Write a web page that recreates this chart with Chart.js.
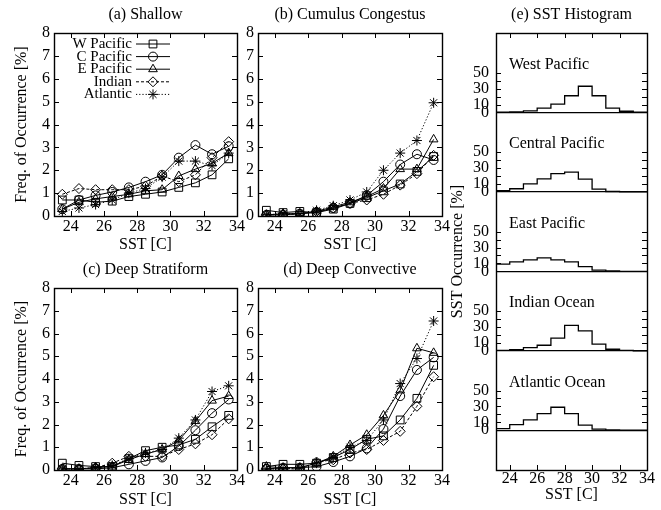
<!DOCTYPE html>
<html>
<head>
<meta charset="utf-8">
<script src="https://cdn.jsdelivr.net/npm/chart.js@4"></script>
<style>
  body { margin: 0; background: #fff; width: 661px; height: 510px; position: relative; overflow: hidden; }
  .panel { position: absolute; }
</style>
</head>
<body>
<div class="panel" style="left:0;top:0;width:254px;height:258px"><canvas id="shallow"></canvas></div>
<div class="panel" style="left:220px;top:0;width:243px;height:258px"><canvas id="congestus"></canvas></div>
<div class="panel" style="left:0;top:240px;width:254px;height:270px"><canvas id="stratiform"></canvas></div>
<div class="panel" style="left:220px;top:240px;width:243px;height:270px"><canvas id="convective"></canvas></div>
<div class="panel" style="left:440px;top:0;width:221px;height:510px"><canvas id="histogram"></canvas></div>
<script>
// bin centres and axis ticks
const sst = [23.5, 24.5, 25.5, 26.5, 27.5, 28.5, 29.5, 30.5, 31.5, 32.5, 33.5];
const sstTicks = [24, 26, 28, 30, 32, 34];
const freqTicks = [0, 1, 2, 3, 4, 5, 6, 7, 8];
const regions = ['W Pacific', 'C Pacific', 'E Pacific', 'Indian', 'Atlantic'];

// (a) Shallow
const shallowW = [0.7, 0.7, 0.6, 0.65, 0.85, 0.95, 1.05, 1.25, 1.45, 1.8, 2.5];
const shallowC = [0.3, 0.7, 0.9, 1.05, 1.25, 1.5, 1.8, 2.55, 3.1, 2.7, 3.05];
const shallowE = [0.3, 0.6, 0.75, 0.85, 0.95, 1.1, 1.15, 1.75, 2.05, 2.3, 2.75];
const shallowI = [0.95, 1.2, 1.15, 1.15, 1.15, 1.3, 1.75, 1.5, 1.8, 2.55, 3.25];
const shallowA = [0.2, 0.35, 0.5, 0.7, 1.0, 1.2, 1.7, 2.4, 2.4, 2.2, 2.75];

// (b) Cumulus Congestus
const congW = [0.25, 0.15, 0.2, 0.15, 0.3, 0.55, 0.8, 1.1, 1.4, 1.95, 2.6];
const congC = [0.05, 0.05, 0.1, 0.15, 0.35, 0.55, 0.9, 1.5, 2.25, 2.7, 2.45];
const congE = [0.05, 0.1, 0.1, 0.2, 0.4, 0.6, 0.85, 1.2, 2.05, 2.05, 3.35];
const congI = [0.05, 0.05, 0.1, 0.2, 0.35, 0.55, 0.7, 0.95, 1.35, 1.85, 2.65];
const congA = [0.05, 0.1, 0.1, 0.25, 0.45, 0.7, 1.05, 2.0, 2.75, 3.3, 4.95];

// (c) Deep Stratiform
const stratW = [0.3, 0.2, 0.15, 0.15, 0.5, 0.85, 1.0, 1.1, 1.35, 1.9, 2.4];
const stratC = [0.05, 0.05, 0.05, 0.1, 0.25, 0.4, 0.55, 1.05, 1.75, 2.5, 3.1];
const stratE = [0.05, 0.05, 0.1, 0.15, 0.45, 0.7, 0.9, 1.3, 2.15, 3.05, 3.25];
const stratI = [0.05, 0.05, 0.1, 0.3, 0.6, 0.6, 0.6, 0.9, 1.15, 1.55, 2.25];
const stratA = [0.05, 0.05, 0.1, 0.2, 0.5, 0.75, 0.9, 1.4, 2.2, 3.45, 3.7];

// (d) Deep Convective
const convW = [0.15, 0.25, 0.25, 0.3, 0.55, 0.9, 1.35, 1.5, 2.2, 3.15, 4.6];
const convC = [0.05, 0.1, 0.1, 0.15, 0.35, 0.6, 0.95, 1.8, 3.25, 4.4, 4.95];
const convE = [0.15, 0.1, 0.1, 0.3, 0.6, 1.1, 1.55, 2.4, 3.5, 5.35, 5.15];
const convI = [0.05, 0.05, 0.05, 0.35, 0.45, 0.75, 0.9, 1.3, 1.7, 2.8, 4.1];
const convA = [0.05, 0.05, 0.1, 0.3, 0.55, 1.0, 1.3, 2.2, 3.8, 4.9, 6.55];

// (e) SST histograms, one value per 1 C bin
const binEdges = [23, 24, 25, 26, 27, 28, 29, 30, 31, 32, 33, 34];
const histNames = ['West Pacific', 'Central Pacific', 'East Pacific', 'Indian Ocean', 'Atlantic Ocean'];
const histWest = [0.3, 0.8, 2, 5.5, 10.5, 21, 33, 21, 5.5, 1.5, 0.3];
const histCentral = [1.5, 4, 10, 16.5, 23, 25, 16, 3.5, 0.5, 0, 0];
const histEast = [9, 12, 14.5, 17, 14.5, 12, 6, 1.5, 0.5, 0, 0];
const histIndian = [0.5, 1.5, 4, 7, 16, 32, 25, 8.5, 2, 0.5, 0];
const histAtlantic = [2, 7, 13, 21, 29, 21, 6.5, 1.5, 0.5, 0, 0];
const histTicks = [0, 10, 20, 30, 40, 50];
const histLabels = [0, 10, 30, 50];
const histStep = 100;

Chart.defaults.font.family = '"Liberation Serif", "Times New Roman", serif';
Chart.defaults.font.size = 16;
Chart.defaults.color = '#000';

const ink = '#000';
const styles = [
  { pointStyle: 'rect', pointRadius: 5.5, borderDash: [] },
  { pointStyle: 'circle', pointRadius: 4.5, borderDash: [] },
  { pointStyle: 'triangle', pointRadius: 5, borderDash: [] },
  { pointStyle: 'rectRot', pointRadius: 5, borderDash: [3, 2] },
  { pointStyle: 'star', pointRadius: 5, borderDash: [1.2, 2] }
];

// frame and inward tick marks, gnuplot style
const frame = {
  id: 'frame',
  afterDraw(chart, args, o) {
    const { ctx, chartArea: a, scales: { x, y } } = chart;
    const len = 5;
    ctx.save();
    ctx.strokeStyle = ink;
    ctx.lineWidth = 1;
    ctx.beginPath();
    x.ticks.forEach(t => {
      const px = Math.round(x.getPixelForValue(t.value)) + 0.5;
      ctx.moveTo(px, a.bottom); ctx.lineTo(px, a.bottom - len);
      ctx.moveTo(px, a.top); ctx.lineTo(px, a.top + len);
    });
    y.ticks.filter(t => !o.skipY || !o.skipY(t.value)).forEach(t => {
      const py = Math.round(y.getPixelForValue(t.value)) + 0.5;
      ctx.moveTo(a.left, py); ctx.lineTo(a.left + len, py);
      ctx.moveTo(a.right, py); ctx.lineTo(a.right - len, py);
    });
    ctx.stroke();
    ctx.lineWidth = 1.4;
    ctx.strokeRect(Math.round(a.left) + 0.5, Math.round(a.top) + 0.5,
      Math.round(a.right - a.left), Math.round(a.bottom - a.top));
    ctx.restore();
  }
};

const panelTitle = {
  id: 'panelTitle',
  afterDraw(chart, args, o) {
    const { ctx, chartArea: a } = chart;
    ctx.save();
    ctx.font = '16px "Liberation Serif"';
    ctx.fillStyle = ink;
    ctx.textAlign = 'center';
    ctx.textBaseline = 'middle';
    ctx.fillText(o.text, (a.left + a.right) / 2, a.top - 18.5);
    ctx.restore();
  }
};

// key drawn inside the plot: text, then line sample with marker
const keyBox = {
  id: 'keyBox',
  afterDatasetsDraw(chart, args, o) {
    if (!o.show) return;
    const { ctx } = chart;
    chart.data.datasets.forEach((ds, i) => {
      const y = o.y0 + i * o.dy;
      ctx.save();
      ctx.font = '15px "Liberation Serif"';
      ctx.fillStyle = ink;
      ctx.textAlign = 'right';
      ctx.textBaseline = 'middle';
      ctx.fillText(ds.label, o.x, y);
      ctx.strokeStyle = ds.borderColor;
      ctx.lineWidth = ds.borderWidth;
      ctx.setLineDash(ds.borderDash);
      ctx.beginPath();
      ctx.moveTo(o.x + 4, y);
      ctx.lineTo(o.x + 38, y);
      ctx.stroke();
      ctx.setLineDash([]);
      ctx.fillStyle = 'rgba(0,0,0,0)';
      Chart.helpers.drawPoint(ctx, { pointStyle: ds.pointStyle, radius: ds.pointRadius, borderWidth: 1, rotation: 0 }, o.x + 21, y);
      ctx.restore();
    });
  }
};

function linePanel(id, title, series, opt) {
  new Chart(document.getElementById(id), {
    type: 'line',
    data: {
      datasets: series.map((vals, i) => ({
        label: regions[i],
        data: sst.map((x, j) => ({ x, y: vals[j] })),
        borderColor: ink,
        borderWidth: 1,
        backgroundColor: 'rgba(0,0,0,0)',
        pointBorderColor: ink,
        pointBackgroundColor: 'rgba(0,0,0,0)',
        pointBorderWidth: 1,
        ...styles[i]
      }))
    },
    options: {
      responsive: true,
      maintainAspectRatio: false,
      animation: false,
      layout: { padding: { top: opt.top, right: opt.right, left: 0, bottom: 0 } },
      plugins: {
        legend: { display: false },
        tooltip: { enabled: false },
        panelTitle: { text: title },
        keyBox: { show: !!opt.key, x: 132, y0: 44, dy: 12.6 }
      },
      scales: {
        x: {
          type: 'linear', min: 23, max: 34,
          afterBuildTicks: s => { s.ticks = sstTicks.map(v => ({ value: v })); },
          afterFit: s => { s.height = opt.xh; },
          grid: { display: false, drawTicks: false },
          border: { display: false },
          ticks: { padding: 1.5, autoSkip: false, maxRotation: 0 },
          title: { display: true, text: 'SST [C]', padding: { top: 0, bottom: opt.xtb } }
        },
        y: {
          min: 0, max: 8,
          afterBuildTicks: s => { s.ticks = freqTicks.map(v => ({ value: v })); },
          afterFit: s => { s.width = opt.yw; },
          grid: { display: false, drawTicks: false },
          border: { display: false },
          ticks: { padding: 4, autoSkip: false },
          title: { display: !!opt.ytitle, text: 'Freq. of Occurrence [%]', padding: { top: 12, bottom: 0 } }
        }
      }
    },
    plugins: [frame, panelTitle, keyBox]
  });
}

linePanel('shallow', '(a) Shallow', [shallowW, shallowC, shallowE, shallowI, shallowA],
  { top: 33, right: 17, xh: 42, xtb: 3.4, yw: 54, ytitle: true, key: true });
linePanel('congestus', '(b) Cumulus Congestus', [congW, congC, congE, congI, congA],
  { top: 33, right: 21, xh: 42, xtb: 3.4, yw: 38 });
linePanel('stratiform', '(c) Deep Stratiform', [stratW, stratC, stratE, stratI, stratA],
  { top: 48, right: 17, xh: 40, xtb: 0.4, yw: 54, ytitle: true });
linePanel('convective', '(d) Deep Convective', [convW, convC, convE, convI, convA],
  { top: 48, right: 21, xh: 40, xtb: 0.4, yw: 38 });

// histogram names inside each strip
const histNameLabels = {
  id: 'histNameLabels',
  afterDraw(chart) {
    const { ctx, scales: { x, y } } = chart;
    ctx.save();
    ctx.font = '16px "Liberation Serif"';
    ctx.fillStyle = ink;
    ctx.textAlign = 'left';
    ctx.textBaseline = 'middle';
    histNames.forEach((name, i) => {
      const base = (histNames.length - 1 - i) * histStep;
      ctx.fillText(name, x.getPixelForValue(23.95), y.getPixelForValue(base + 60));
    });
    ctx.restore();
  }
};

const histSeries = [histWest, histCentral, histEast, histIndian, histAtlantic];
new Chart(document.getElementById('histogram'), {
  type: 'line',
  data: {
    datasets: histSeries.map((vals, i) => {
      const base = (histSeries.length - 1 - i) * histStep;
      return {
        label: histNames[i],
        data: binEdges.map((x, j) => ({ x, y: base + vals[Math.min(j, vals.length - 1)] })),
        stepped: true,
        borderColor: ink,
        borderWidth: 1.3,
        pointRadius: 0,
        fill: false
      };
    })
  },
  options: {
    responsive: true,
    maintainAspectRatio: false,
    animation: false,
    layout: { padding: { top: 33, right: 14, left: 0, bottom: 0 } },
    plugins: {
      legend: { display: false },
      tooltip: { enabled: false },
      panelTitle: { text: '(e) SST Histogram' },
      frame: { skipY: v => v % histStep === 0 }
    },
    scales: {
      x: {
        type: 'linear', min: 23, max: 34,
        afterBuildTicks: s => { s.ticks = sstTicks.map(v => ({ value: v })); },
        afterFit: s => { s.height = 40; },
        grid: { display: false, drawTicks: false },
        border: { display: false },
        ticks: { padding: -1, autoSkip: false, maxRotation: 0 },
        title: { display: true, text: 'SST [C]', padding: { top: 0, bottom: 5.5 } }
      },
      y: {
        min: -50, max: 500,
        afterBuildTicks: s => {
          const t = [];
          for (let k = 0; k < histSeries.length; k++) histTicks.forEach(v => t.push({ value: k * histStep + v }));
          s.ticks = t;
        },
        afterFit: s => { s.width = 56; },
        grid: {
          drawTicks: false,
          lineWidth: 1.2,
          color: c => (c.tick && c.tick.value % histStep === 0) ? ink : 'rgba(0,0,0,0)'
        },
        border: { display: false },
        ticks: {
          padding: 7,
          autoSkip: false,
          callback: v => histLabels.includes(v % histStep) ? String(v % histStep) : ''
        },
        title: { display: true, text: 'SST Occurrence [%]', padding: { top: 8, bottom: 0 } }
      }
    }
  },
  plugins: [frame, panelTitle, histNameLabels]
});
</script>
</body>
</html>
